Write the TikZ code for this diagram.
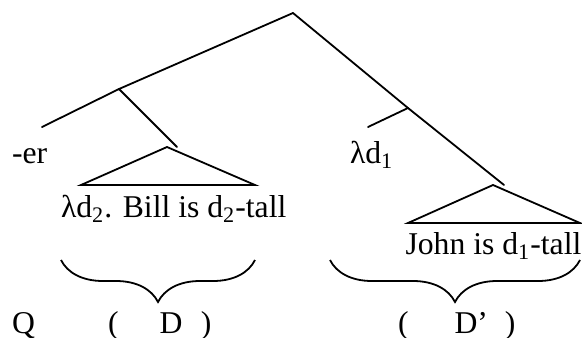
\documentclass[tikz,border=0pt]{standalone}
\usepackage{fontspec}
\setmainfont{Liberation Serif}
\usetikzlibrary{decorations.pathreplacing}
\begin{document}
\begin{tikzpicture}[x=0.5pt,y=-0.5pt,
  branch/.style={line width=0.9pt,line cap=round,line join=miter},
  lbl/.style={anchor=base west,inner sep=0pt,outer sep=0pt,font=\fontsize{15.85pt}{19pt}\selectfont},
  bracebrk/.style={line width=0.9pt,decorate,decoration={brace,mirror,amplitude=21pt,aspect=0.5}}]
\useasboundingbox (0,0) rectangle (582,337);
% tree points
\coordinate (root) at (293,13);
\coordinate (lnode) at (119,89);
\coordinate (erend) at (42,127);
\coordinate (ltip) at (177,147);
\coordinate (rnode) at (408,108);
\coordinate (lamend) at (368,127);
\coordinate (rtip) at (504,185);
% left triangle
\coordinate (la) at (167,147);
\coordinate (lb1) at (81,185);
\coordinate (lb2) at (255,185);
% right triangle
\coordinate (ra) at (493,185);
\coordinate (rb1) at (408,223);
\coordinate (rb2) at (580,223);
% branches
\draw[branch] (root) -- (lnode) -- (erend);
\draw[branch] (lnode) -- (ltip);
\draw[branch] (root) -- (rnode) -- (rtip);
\draw[branch] (rnode) -- (lamend);
\draw[branch] (lb1) -- (la) -- (lb2) -- cycle;
\draw[branch] (rb1) -- (ra) -- (rb2) -- cycle;
% labels
\node[lbl] (er) at (12,163) {-er};
\node[lbl] (lam) at (350,163) {λd\textsubscript{1}};
\node[lbl] (bill) at (61,217) {λd\textsubscript{2}. Bill is d\textsubscript{2}-tall};
\node[lbl] (john) at (405.5,254) {John is d\textsubscript{1}-tall};
% braces
\coordinate (bl1) at (61,260);
\coordinate (bl2) at (255,260);
\coordinate (br1) at (330,260);
\coordinate (br2) at (580,260);
\draw[bracebrk] (bl1) -- (bl2);
\draw[bracebrk] (br1) -- (br2);
\node[lbl] (q) at (12,333) {Q};
\node[lbl] (d) at (108,333) {(\hspace{20.5pt}D\hspace{9.25pt})};
\node[lbl] (dp) at (398,333) {(\hspace{23pt}D’\hspace{8.5pt})};
\end{tikzpicture}
\end{document}
